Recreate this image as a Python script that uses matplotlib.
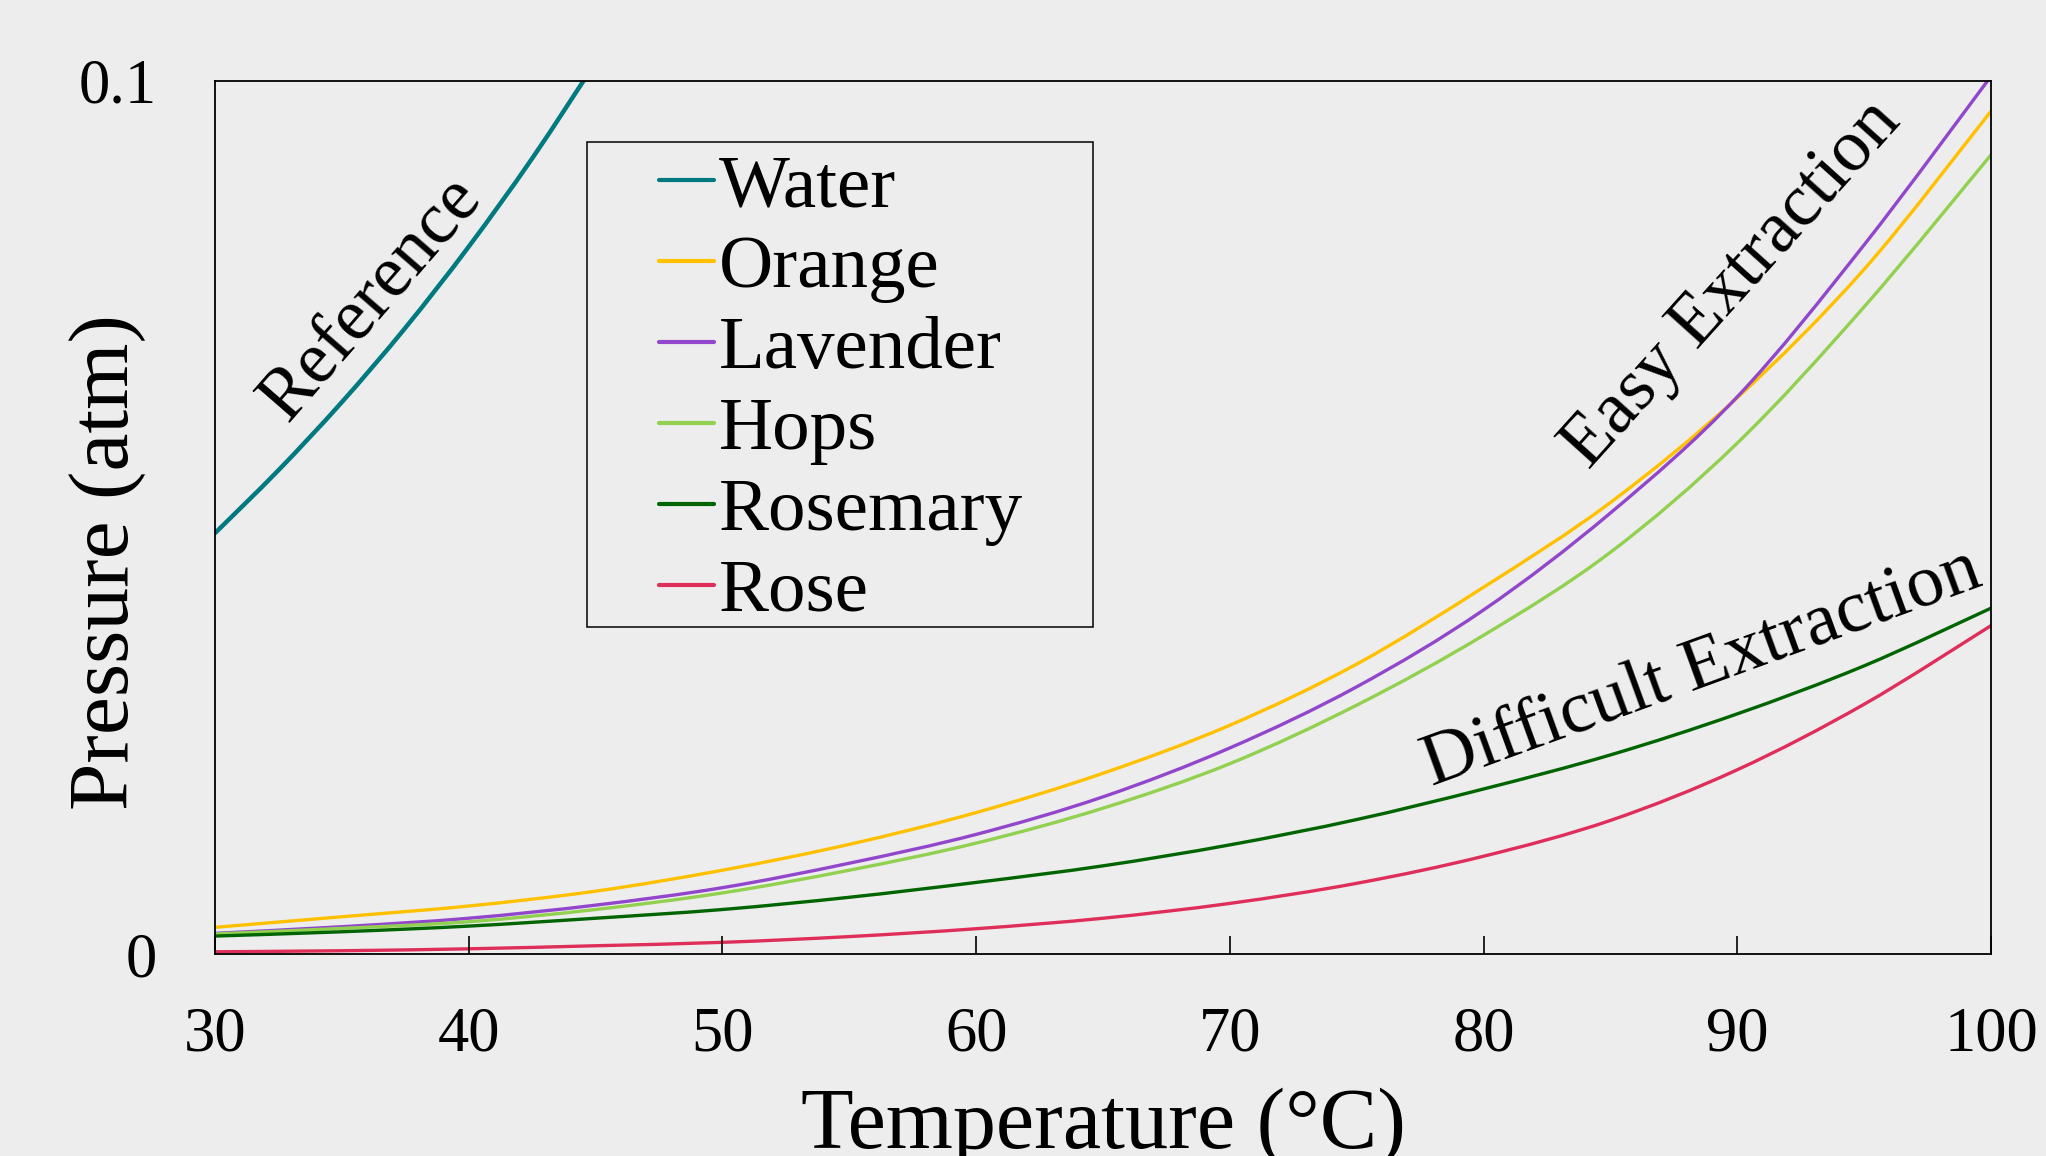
import matplotlib
matplotlib.use("Agg")
import numpy as np
import matplotlib.pyplot as plt
from matplotlib.patches import Rectangle, PathPatch
from matplotlib.path import Path
from matplotlib.lines import Line2D

plt.rcParams['font.family'] = ['Liberation Serif', 'DejaVu Serif']

# vapour pressure (atm)
temps = [30, 35, 40, 45, 50, 55, 60, 65, 70, 75, 80, 85, 90, 95, 100]
water_temps = [30, 32.5, 35, 37.5, 40, 42.5, 45]
water = [0.0482, 0.0554, 0.0632, 0.0717, 0.0810, 0.0911, 0.1021]
orange = [0.00306, 0.00427, 0.0055, 0.0072, 0.0096, 0.01256, 0.0162, 0.0207,
          0.0262, 0.0332, 0.0420, 0.0517, 0.0637, 0.0784, 0.0965]
lavender = [0.00237, 0.00313, 0.0041, 0.0056, 0.0076, 0.0104, 0.0137, 0.0180,
            0.0236, 0.0306, 0.0394, 0.0505, 0.0638, 0.0812, 0.1005]
hops = [0.0023, 0.00294, 0.0037, 0.0051, 0.0070, 0.0096, 0.0127, 0.0167,
        0.0218, 0.0285, 0.0365, 0.0460, 0.0585, 0.0741, 0.0915]
rosemary = [0.00206, 0.00255, 0.0032, 0.0041, 0.0051, 0.0065, 0.0082, 0.0101,
            0.0125, 0.0154, 0.0189, 0.0228, 0.0275, 0.0330, 0.0396]
rose = [0.00026, 0.00038, 0.0006, 0.00095, 0.00134, 0.0020, 0.0029, 0.0041,
        0.0058, 0.0081, 0.0112, 0.0153, 0.0211, 0.0286, 0.0376]

xticks = [30, 40, 50, 60, 70, 80, 90, 100]
yticks = [0, 0.1]
ytick_labels = ['0', '0.1']


def smooth_path(x, y):
    # smoothed line through the points (Catmull-Rom as cubic Bezier)
    pts = np.column_stack([x, y])
    verts = [pts[0]]
    codes = [Path.MOVETO]
    n = len(pts)
    for i in range(n - 1):
        p0 = pts[i - 1] if i > 0 else pts[i]
        p1 = pts[i]
        p2 = pts[i + 1]
        p3 = pts[i + 2] if i + 2 < n else pts[i + 1]
        verts += [p1 + (p2 - p0) / 6, p2 - (p3 - p1) / 6, p2]
        codes += [Path.CURVE4] * 3
    return Path(verts, codes)


bg = '#EDEDED'
fig = plt.figure(figsize=(20.46, 11.56), dpi=100, facecolor=bg)
ax = fig.add_axes([0.1051, 0.1747, 0.868, 0.7555], facecolor=bg)

series = [
    ('Water', water_temps, water, '#007A80', 3.2),
    ('Orange', temps, orange, '#FFC000', 2.4),
    ('Lavender', temps, lavender, '#9146CC', 2.4),
    ('Hops', temps, hops, '#92D050', 2.4),
    ('Rosemary', temps, rosemary, '#006400', 2.4),
    ('Rose', temps, rose, '#DF2E5A', 2.4),
]
handles = []
for name, xs, ys, color, lw in series:
    ax.add_patch(PathPatch(smooth_path(xs, ys), fill=False, edgecolor=color,
                           lw=lw, capstyle='round', joinstyle='round'))
    handles.append(Line2D([], [], color=color, lw=3.0, solid_capstyle='round', label=name))

ax.set_xlim(30, 100)
ax.set_ylim(0, 0.1)
ax.set_xticks(xticks)
ax.set_yticks(yticks)
ax.set_yticklabels(ytick_labels)
ax.tick_params(axis='x', direction='in', length=13, width=1.2, pad=38, labelsize=45)
ax.tick_params(axis='y', length=0, pad=42, labelsize=45)
for s in ax.spines.values():
    s.set_linewidth(1.3)
    s.set_color('black')

ax.set_xlabel('Temperature (°C)', fontsize=62)
ax.set_ylabel('Pressure (atm)', fontsize=61.5)
ax.xaxis.set_label_coords(0.5, -0.153)
ax.yaxis.set_label_coords(-0.0386, 0.449)

# region annotations
ax.text(36.2, 0.0750, 'Reference', fontsize=53, rotation=49,
        ha='center', va='center', rotation_mode='anchor')
ax.text(89.8, 0.0767, 'Easy Extraction', fontsize=53, rotation=48,
        ha='center', va='center', rotation_mode='anchor')
ax.text(88.6, 0.0327, 'Difficult Extraction', fontsize=54, rotation=20,
        ha='center', va='center', rotation_mode='anchor')

# legend without frame, box drawn separately
ax.legend(handles=handles, loc='upper left', bbox_to_anchor=(0.25, 0.916), frameon=False,
          fontsize=54, handlelength=0.73, handletextpad=0.07,
          labelspacing=0.165, borderpad=0, borderaxespad=0)
ax.add_patch(Rectangle((0.2093, 0.375), 0.285, 0.555, transform=ax.transAxes,
                       fill=False, edgecolor='black', lw=1.1, zorder=5))

fig.savefig('out.png', dpi=100, facecolor=bg)
